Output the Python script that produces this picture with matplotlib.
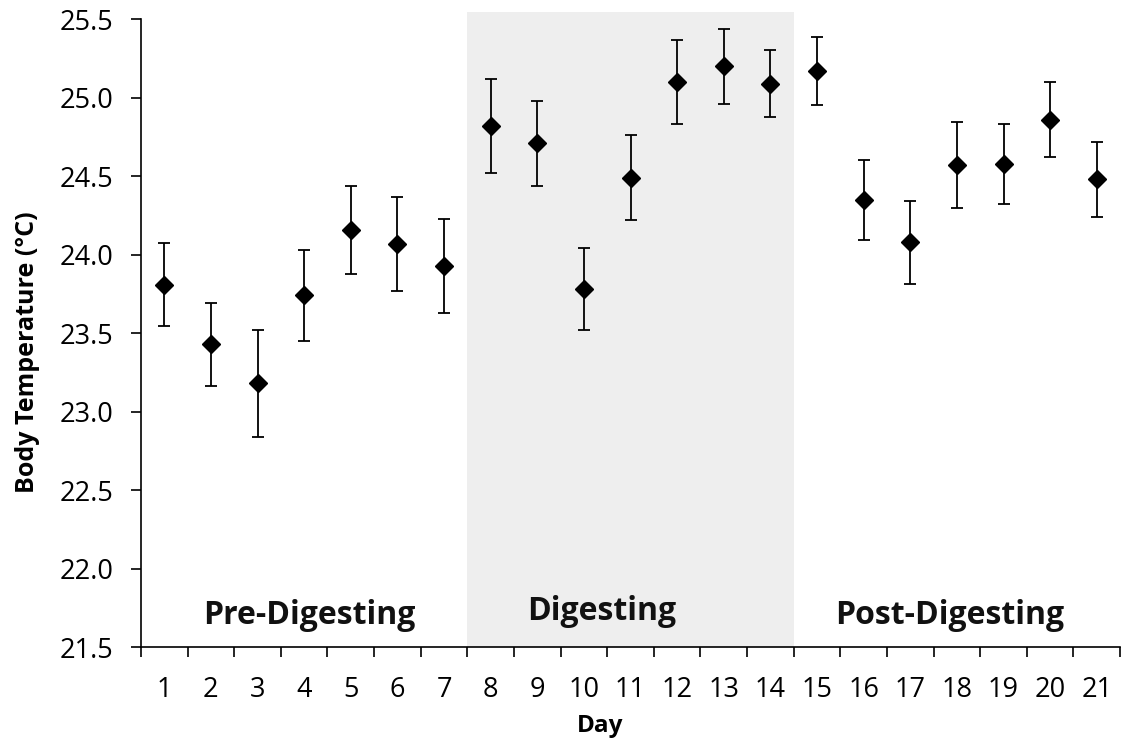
import numpy as np
import matplotlib
matplotlib.use("Agg")
import matplotlib.pyplot as plt
from matplotlib.ticker import MultipleLocator, FixedLocator, FormatStrFormatter

# Data
days = list(range(1, 22))
temps = [23.81, 23.43, 23.18, 23.74, 24.16, 24.07, 23.93,
         24.82, 24.71, 23.78, 24.49, 25.10, 25.20, 25.09,
         25.17, 24.35, 24.08, 24.57, 24.58, 24.86, 24.48]
errs = [0.265, 0.265, 0.34, 0.29, 0.28, 0.30, 0.30,
        0.30, 0.27, 0.26, 0.27, 0.265, 0.24, 0.215,
        0.215, 0.255, 0.265, 0.275, 0.255, 0.24, 0.24]
phases = ["Pre-Digesting", "Digesting", "Post-Digesting"]
phase_x = [4.10, 10.39, 17.85]
phase_y = [21.646, 21.675, 21.646]
digest_start, digest_end = 7.5, 14.5

plt.rcParams['font.family'] = ['Open Sans', 'DejaVu Sans']

fig = plt.figure(figsize=(11.28, 7.42), dpi=100)
ax = fig.add_axes([0.125, 0.128, 0.868, 0.846])

# shaded digesting period (slightly above the top of the axis, like the original)
ax.axvspan(digest_start, digest_end, ymin=0, ymax=1.012, color='#eeeeee',
           zorder=0, clip_on=False, lw=0)

ax.errorbar(days, temps, yerr=errs, fmt='D', color='black', ms=9,
            ecolor='black', elinewidth=1.3, capsize=4.5, capthick=1.3, zorder=3)

ax.set_xlim(0.5, 21.5)
ax.set_ylim(21.5, 25.5)
ax.yaxis.set_major_locator(MultipleLocator(0.5))
ax.yaxis.set_major_formatter(FormatStrFormatter('%.1f'))

ax.set_xticks(days)
ax.set_xticklabels([str(d) for d in days])
ax.xaxis.set_minor_locator(FixedLocator(np.arange(0.5, 22, 1)))
ax.tick_params(axis='x', which='major', length=0, pad=21, labelsize=19.5)
ax.tick_params(axis='x', which='minor', length=7, width=1.2, direction='out')
ax.tick_params(axis='y', which='major', length=7, width=1.2, direction='out',
               labelsize=19.5, pad=13)

for side in ['top', 'right']:
    ax.spines[side].set_visible(False)
for side in ['left', 'bottom']:
    ax.spines[side].set_linewidth(1.2)

for name, x, y in zip(phases, phase_x, phase_y):
    ax.text(x, y, name, ha='center', va='baseline', fontsize=23,
            fontweight='bold', color='#111111')

ax.set_xlabel('Day', fontsize=17.5, fontweight='bold')
ax.xaxis.set_label_coords(0.469, -0.106)
ax.set_ylabel('Body Temperature (°C)', fontsize=18, fontweight='bold')
ax.yaxis.set_label_coords(-0.103, 0.47)

fig.savefig('out.png', dpi=100)
